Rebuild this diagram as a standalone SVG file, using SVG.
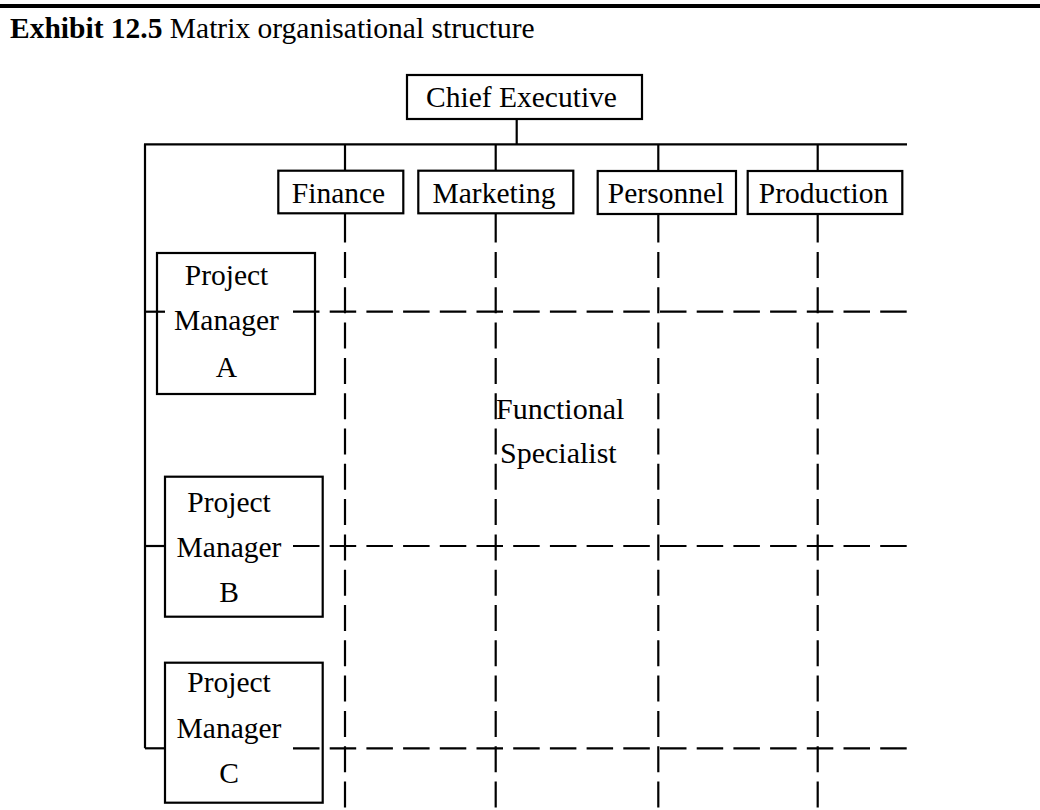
<svg xmlns="http://www.w3.org/2000/svg" width="1040" height="810" viewBox="0 0 1040 810">
<style>
  text { font-family: "Liberation Serif", "Times New Roman", serif; fill: #000; }
  .lbl { font-size: 29.5px; text-anchor: middle; }
  .box { fill: #fff; stroke: #000; stroke-width: 2.2; }
  .ln { stroke: #000; stroke-width: 2.2; fill: none; }
  .dv { stroke: #000; stroke-width: 2.2; fill: none; stroke-dasharray: 26 9.3; }
  .dh { stroke: #000; stroke-width: 2.2; fill: none; stroke-dasharray: 26.5 10.2; }
</style>
<rect x="0" y="4" width="1040" height="4" fill="#000"/>
<text x="10" y="38" font-size="29.5"><tspan font-weight="bold">Exhibit 12.5</tspan> Matrix organisational structure</text>

<g id="connectors">
  <line class="ln" x1="516.7" y1="119" x2="516.7" y2="144.3"/>
  <line class="ln" x1="144" y1="144.3" x2="907" y2="144.3"/>
  <line class="ln" x1="145" y1="144.3" x2="145" y2="748.3"/>
  <line class="ln" x1="345" y1="144.3" x2="345" y2="171"/>
  <line class="ln" x1="495.7" y1="144.3" x2="495.7" y2="171"/>
  <line class="ln" x1="658.3" y1="144.3" x2="658.3" y2="171"/>
  <line class="ln" x1="817.7" y1="144.3" x2="817.7" y2="171"/>
  <line class="ln" x1="345" y1="213" x2="345" y2="242.5"/>
  <line class="ln" x1="495.7" y1="213" x2="495.7" y2="242.5"/>
  <line class="ln" x1="658.3" y1="213" x2="658.3" y2="242.5"/>
  <line class="ln" x1="817.7" y1="213" x2="817.7" y2="242.5"/>
  <line class="dv" x1="345" y1="252" x2="345" y2="812"/>
  <line class="dv" x1="495.7" y1="252" x2="495.7" y2="812"/>
  <line class="dv" x1="658.3" y1="252" x2="658.3" y2="812"/>
  <line class="dv" x1="817.7" y1="252" x2="817.7" y2="812"/>
  <line class="ln" x1="145" y1="311.7" x2="165" y2="311.7"/>
  <line class="ln" x1="145" y1="546" x2="165" y2="546"/>
  <line class="ln" x1="145" y1="748.3" x2="165" y2="748.3"/>
</g>

<g id="chief-executive">
  <rect class="box" x="407" y="75" width="235" height="44"/>
  <text class="lbl" x="521.5" y="106.7">Chief Executive</text>
</g>
<g id="finance">
  <rect class="box" x="278.3" y="170.7" width="125" height="42.6"/>
  <text class="lbl" x="338.5" y="203.3">Finance</text>
</g>
<g id="marketing">
  <rect class="box" x="418.3" y="170.7" width="155" height="42.6"/>
  <text class="lbl" x="494" y="203.3">Marketing</text>
</g>
<g id="personnel">
  <rect class="box" x="597.7" y="171" width="138.3" height="43"/>
  <text class="lbl" x="666" y="203.3">Personnel</text>
</g>
<g id="production">
  <rect class="box" x="747.7" y="171" width="154.6" height="43"/>
  <text class="lbl" x="823.5" y="203.3">Production</text>
</g>

<g id="project-manager-a">
  <rect class="box" x="157" y="253" width="158" height="141"/>
  <line class="ln" x1="157" y1="311.7" x2="165" y2="311.7"/>
  <text class="lbl" x="226.5" y="285">Project</text>
  <text class="lbl" x="226.5" y="330">Manager</text>
  <text class="lbl" x="226.5" y="376.7">A</text>
</g>
<g id="project-manager-b">
  <rect class="box" x="165" y="476.7" width="157.7" height="140"/>
  <text class="lbl" x="229" y="511.7">Project</text>
  <text class="lbl" x="229" y="556.7">Manager</text>
  <text class="lbl" x="229" y="602">B</text>
</g>
<g id="project-manager-c">
  <rect class="box" x="165" y="662.7" width="157.7" height="140"/>
  <text class="lbl" x="229" y="692">Project</text>
  <text class="lbl" x="229" y="737.7">Manager</text>
  <text class="lbl" x="229" y="783">C</text>
</g>

<g id="matrix-lines">
  <line class="dh" x1="293" y1="311.7" x2="907" y2="311.7"/>
  <line class="dh" x1="293" y1="546" x2="907" y2="546"/>
  <line class="dh" x1="293" y1="748.3" x2="907" y2="748.3"/>
</g>

<g id="functional-specialist">
  <text x="496" y="419" font-size="30">Functional</text>
  <text x="500" y="463" font-size="30">Specialist</text>
</g>
</svg>
